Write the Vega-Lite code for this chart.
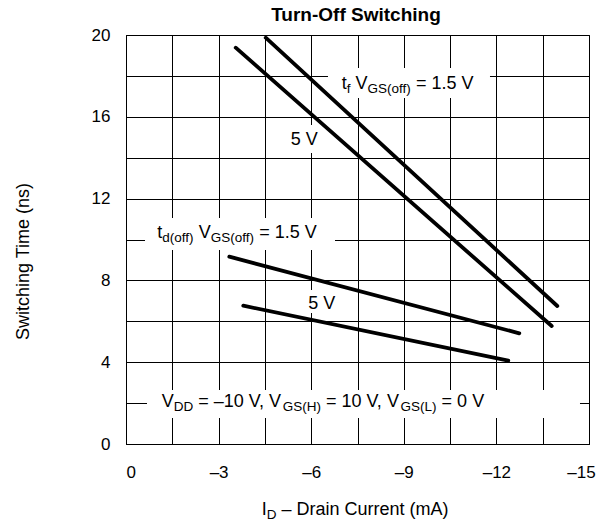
{
  "$schema": "https://vega.github.io/schema/vega-lite/v6.json",
  "width": 463,
  "height": 409,
  "autosize": {"type": "none"},
  "padding": {"left": 126, "top": 35, "right": 11, "bottom": 80},
  "background": "white",
  "config": {"view": {"stroke": "black", "strokeWidth": 1}, "font": "Liberation Sans"},
  "datasets": {
    "curves": [
      {"series": "tf 1.5 V", "I_D": -4.526, "t": 19.868},
      {"series": "tf 1.5 V", "I_D": -13.973, "t": 6.748},
      {"series": "tf 5 V", "I_D": -3.554, "t": 19.379},
      {"series": "tf 5 V", "I_D": -13.791, "t": 5.770},
      {"series": "td 1.5 V", "I_D": -3.347, "t": 9.159},
      {"series": "td 1.5 V", "I_D": -12.742, "t": 5.413},
      {"series": "td 5 V", "I_D": -3.800, "t": 6.763},
      {"series": "td 5 V", "I_D": -12.385, "t": 4.073}
    ],
    "boxes": [
      {"x1": -6.544, "x2": -11.792, "y1": 18.386, "y2": 16.919},
      {"x1": -5.086, "x2": -6.350, "y1": 15.599, "y2": 14.230},
      {"x1": -0.616, "x2": -6.771, "y1": 11.051, "y2": 9.487},
      {"x1": -5.637, "x2": -6.933, "y1": 7.531, "y2": 6.406},
      {"x1": -0.680, "x2": -14.708, "y1": 2.641, "y2": 1.271}
    ],
    "titles": [
      {"x": -7.45, "y": 20.69, "text": "Turn-Off Switching"}
    ],
    "textMain": [
      {"x": -6.988, "y": 17.345, "text": "t"},
      {"x": -7.434, "y": 17.345, "text": "V"},
      {"x": -9.394, "y": 17.345, "text": "= 1.5 V"},
      {"x": -5.336, "y": 14.621, "text": "5 V"},
      {"x": -1.014, "y": 10.059, "text": "t"},
      {"x": -2.359, "y": 10.059, "text": "V"},
      {"x": -4.319, "y": 10.059, "text": "= 1.5 V"},
      {"x": -5.906, "y": 6.587, "text": "5 V"},
      {"x": -1.157, "y": 1.824, "text": "V"},
      {"x": -2.339, "y": 1.824, "text": "= –10 V, V"},
      {"x": -6.479, "y": 1.824, "text": "= 10 V, V"},
      {"x": -10.225, "y": 1.824, "text": "= 0 V"},
      {"x": -4.396, "y": -3.472, "text": "I"},
      {"x": -5.034, "y": -3.472, "text": "– Drain Current (mA)"}
    ],
    "textSub": [
      {"x": -7.150, "y": 17.345, "text": "f"},
      {"x": -7.822, "y": 17.345, "text": "GS(off)"},
      {"x": -1.176, "y": 10.059, "text": "d(off)"},
      {"x": -2.747, "y": 10.059, "text": "GS(off)"},
      {"x": -1.545, "y": 1.824, "text": "DD"},
      {"x": -5.080, "y": 1.824, "text": "GS(H)"},
      {"x": -8.896, "y": 1.824, "text": "GS(L)"},
      {"x": -4.558, "y": -3.472, "text": "D"}
    ]
  },
  "layer": [
    {
      "data": {"name": "boxes"},
      "mark": {"type": "rect", "fill": "white", "stroke": null},
      "encoding": {
        "x": {
          "field": "x1", "type": "quantitative",
          "scale": {"domain": [0, -15], "nice": false, "zero": false},
          "axis": {
            "values": [0, -1.5, -3, -4.5, -6, -7.5, -9, -10.5, -12, -13.5, -15],
            "labelExpr": "datum.value % 3 == 0 ? (datum.value == 0 ? '0' : '–' + abs(datum.value)) : ''",
            "grid": true, "gridColor": "black", "gridOpacity": 1, "gridWidth": 1,
            "ticks": false, "domainColor": "black",
            "labelFont": "Liberation Sans", "labelFontSize": 17, "labelColor": "black",
            "labelPadding": 20, "labelFlush": false, "labelOverlap": false, "labelBound": false,
            "labelAlign": {"condition": {"test": "datum.value == 0", "value": "left"}, "value": "center"},
            "labelOffset": {"condition": {"test": "datum.value == -15", "value": -8}, "value": 0},
            "title": null
          }
        },
        "x2": {"field": "x2"},
        "y": {
          "field": "y1", "type": "quantitative",
          "scale": {"domain": [0, 20], "nice": false, "zero": false},
          "axis": {
            "values": [0, 2, 4, 6, 8, 10, 12, 14, 16, 18, 20],
            "labelExpr": "datum.value % 4 == 0 ? datum.label : ''",
            "grid": true, "gridColor": "black", "gridOpacity": 1, "gridWidth": 1,
            "ticks": false, "domainColor": "black",
            "labelFont": "Liberation Sans", "labelFontSize": 17, "labelColor": "black",
            "labelPadding": 16, "labelOverlap": false, "labelBound": false, "labelFlush": false,
            "title": "Switching Time (ns)",
            "titleFont": "Liberation Sans", "titleFontSize": 18, "titleFontWeight": "normal", "titleColor": "black",
            "titleX": -103, "titleY": 226, "titleAlign": "center", "titleBaseline": "middle", "titleAngle": 270
          }
        },
        "y2": {"field": "y2"}
      }
    },
    {
      "data": {"name": "curves"},
      "mark": {"type": "line", "color": "black", "strokeWidth": 3.8, "strokeCap": "round"},
      "encoding": {
        "x": {"field": "I_D", "type": "quantitative"},
        "y": {"field": "t", "type": "quantitative"},
        "detail": {"field": "series"}
      }
    },
    {
      "data": {"name": "titles"},
      "mark": {"type": "text", "align": "center", "baseline": "alphabetic", "font": "Liberation Sans", "fontSize": 19, "fontWeight": "bold", "color": "black"},
      "encoding": {
        "x": {"field": "x", "type": "quantitative"},
        "y": {"field": "y", "type": "quantitative"},
        "text": {"field": "text"}
      }
    },
    {
      "data": {"name": "textMain"},
      "mark": {"type": "text", "align": "left", "baseline": "alphabetic", "font": "Liberation Sans", "fontSize": 18, "color": "black"},
      "encoding": {
        "x": {"field": "x", "type": "quantitative"},
        "y": {"field": "y", "type": "quantitative"},
        "text": {"field": "text"}
      }
    },
    {
      "data": {"name": "textSub"},
      "mark": {"type": "text", "align": "left", "baseline": "alphabetic", "font": "Liberation Sans", "fontSize": 13.5, "dy": 4, "color": "black"},
      "encoding": {
        "x": {"field": "x", "type": "quantitative"},
        "y": {"field": "y", "type": "quantitative"},
        "text": {"field": "text"}
      }
    }
  ]
}
